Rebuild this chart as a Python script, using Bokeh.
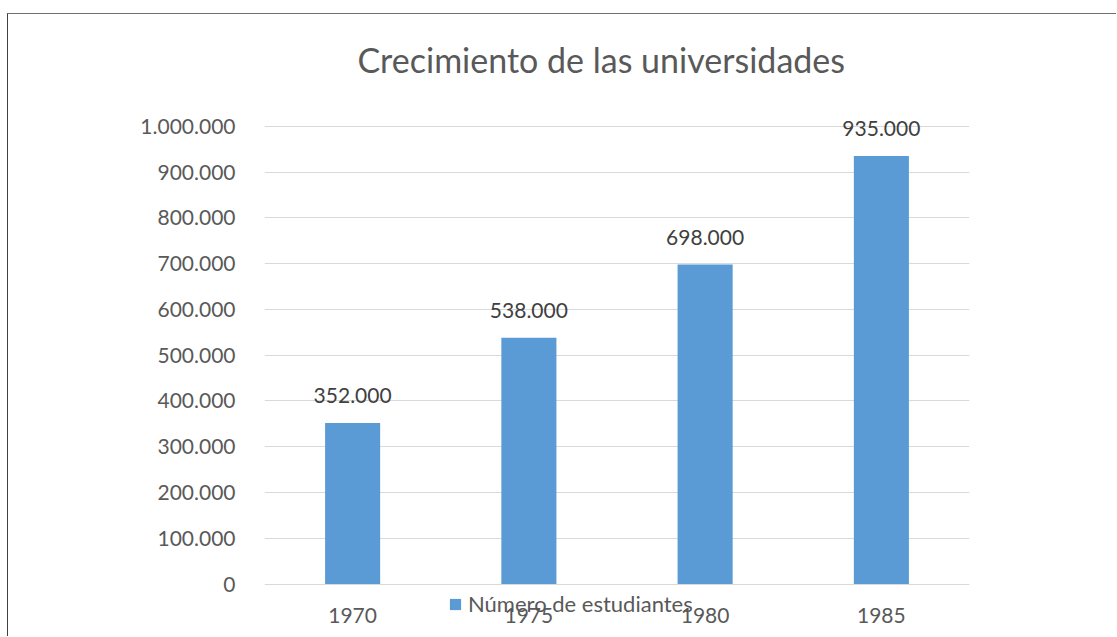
from bokeh.plotting import figure
from bokeh.models import (ColumnDataSource, FactorRange, FixedTicker, LabelSet,
                          Legend, LegendItem, Spacer, Range1d)
from bokeh.layouts import column, row
from bokeh.core.properties import value
from bokeh.embed import file_html
from bokeh.resources import INLINE

# ---- data ----
years = ["1970", "1975", "1980", "1985"]
students = [352000, 538000, 698000, 935000]
value_labels = ["352.000", "538.000", "698.000", "935.000"]
y_ticks = [0, 100000, 200000, 300000, 400000, 500000, 600000, 700000, 800000, 900000, 1000000]
y_tick_labels = ["0", "100.000", "200.000", "300.000", "400.000", "500.000",
                 "600.000", "700.000", "800.000", "900.000", "1.000.000"]
title_text = "Crecimiento de las universidades"
series_name = "Número de estudiantes"

FONT = "Lato"
BAR = "#5B9BD5"
GRID = "#D9D9D9"
TXT = "#595959"

# layout: 0..1,000,000 spans 457 px; frame extended above and below
PX_PER_UNIT = 457 / 1000000
FRAME_H = 556
Y_END = 1100000
Y_START = Y_END - FRAME_H / PX_PER_UNIT

src = ColumnDataSource(dict(year=years, n=students, lab=value_labels,
                            base=[0] * len(years)))

p = figure(x_range=FactorRange(*years, range_padding=0), y_range=Range1d(Y_START, Y_END),
           frame_width=704, frame_height=FRAME_H,
           min_border_left=256, min_border_right=148, min_border_top=66, min_border_bottom=0,
           x_axis_location=None,
           output_backend="svg", toolbar_location=None, title=title_text)
p.styles = {"border-left": "1px solid #404040", "border-top": "1px solid #707070"}

p.title.text_font = FONT
p.title.text_font_size = "34px"
p.title.text_font_style = "normal"
p.title.text_color = TXT
p.title.align = "left"
p.title.offset = 93
p.title.standoff = 2

r = p.vbar(x="year", top="n", width=0.3125, source=src, fill_color=BAR, line_color=None)

p.outline_line_color = None
p.xgrid.grid_line_color = None
p.ygrid.grid_line_color = GRID
p.ygrid.ticker = FixedTicker(ticks=y_ticks)

p.yaxis.ticker = FixedTicker(ticks=y_ticks)
p.yaxis.major_label_overrides = {t: l for t, l in zip(y_ticks, y_tick_labels)}
p.yaxis.axis_line_color = None
p.yaxis.major_tick_line_color = None
p.yaxis.minor_tick_line_color = None
p.yaxis.major_label_standoff = 23
p.yaxis.major_label_text_font = FONT
p.yaxis.major_label_text_font_size = "21px"
p.yaxis.major_label_text_color = TXT

# category labels under the zero line
cats = LabelSet(x="year", y="base", text="year", source=src, text_align="center",
                text_baseline="alphabetic", y_offset=-39, text_font=value(FONT),
                text_font_size="21px", text_color=TXT)
p.add_layout(cats)

labels = LabelSet(x="year", y="n", text="lab", source=src, text_align="center",
                  text_baseline="alphabetic", y_offset=20, text_font=value(FONT),
                  text_font_size="21px", text_color="#404040")
p.add_layout(labels)

legend = Legend(items=[LegendItem(label=series_name, renderers=[r])],
                location=(184, 20), padding=0, margin=0, spacing=0,
                label_standoff=6, glyph_width=14, glyph_height=14, label_height=20,
                border_line_color=None, background_fill_alpha=0,
                label_text_font=FONT, label_text_font_size="22px", label_text_color=TXT)
p.add_layout(legend, "center")

layout = row(Spacer(width=7), column(Spacer(height=13), p))
open("out.html", "w").write(file_html(layout, INLINE))
